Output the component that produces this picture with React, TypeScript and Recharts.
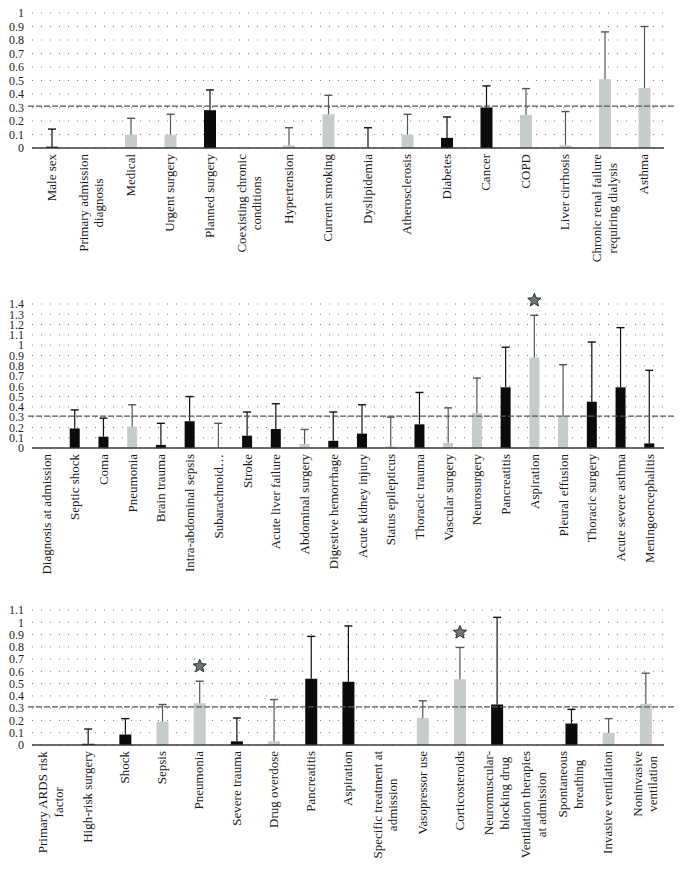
import React from "react";
import { BarChart, Bar, Cell, XAxis, YAxis, CartesianGrid, ReferenceLine } from "recharts";

const FONT = "'Liberation Serif', 'Times New Roman', serif";
const DARK = "#0b0b0b";
const LIGHT = "#c4cdc9";
const THRESHOLD = 0.31;

// Panel 1 — patient characteristics
const labels1 = [
  "Male sex", "Primary admission\ndiagnosis", "Medical", "Urgent surgery", "Planned surgery",
  "Coexisting chronic\nconditions", "Hypertension", "Current smoking", "Dyslipidemia",
  "Atherosclerosis", "Diabetes", "Cancer", "COPD", "Liver cirrhosis",
  "Chronic renal failure\nrequiring dialysis", "Asthma",
];
const values1 = [0.01, null, 0.1, 0.1, 0.28, null, 0.02, 0.25, 0, 0.1, 0.075, 0.3, 0.245, 0.02, 0.51, 0.445];
const errors1 = [0.14, null, 0.22, 0.25, 0.43, null, 0.15, 0.39, 0.15, 0.25, 0.23, 0.46, 0.44, 0.27, 0.86, 0.9];
const tones1 = [1, 0, 0, 0, 1, 0, 0, 0, 1, 0, 1, 1, 0, 0, 0, 0];
const stars1: number[] = [];

// Panel 2 — diagnosis at admission
const labels2 = [
  "Diagnosis at admission", "Septic shock", "Coma", "Pneumonia", "Brain trauma",
  "Intra-abdominal sepsis", "Subarachnoid\u2026", "Stroke", "Acute liver failure",
  "Abdominal surgery", "Digestive hemorrhage", "Acute kidney injury", "Status epilepticus",
  "Thoracic trauma", "Vascular surgery", "Neurosurgery", "Pancreatitis", "Aspiration",
  "Pleural effusion", "Thoracic surgery", "Acute severe asthma", "Meningoencephalitis",
];
const values2 = [null, 0.19, 0.11, 0.21, 0.03, 0.26, 0, 0.12, 0.185, 0.04, 0.07, 0.14, 0.015, 0.23, 0.05, 0.34, 0.59, 0.88, 0.305, 0.45, 0.59, 0.045];
const errors2 = [null, 0.37, 0.29, 0.42, 0.24, 0.5, 0.24, 0.35, 0.43, 0.18, 0.35, 0.42, 0.3, 0.54, 0.39, 0.68, 0.98, 1.29, 0.81, 1.03, 1.17, 0.755];
const tones2 = [0, 1, 1, 0, 1, 1, 0, 1, 1, 0, 1, 1, 0, 1, 0, 0, 1, 0, 0, 1, 1, 1];
const stars2 = [17];

// Panel 3 — ARDS risk factors and treatment
const labels3 = [
  "Primary ARDS risk\nfactor", "High-risk surgery", "Shock", "Sepsis", "Pneumonia",
  "Severe trauma", "Drug overdose", "Pancreatitis", "Aspiration",
  "Specific treatment at\nadmission", "Vasopressor use", "Corticosteroids",
  "Neuromuscular-\nblocking drug", "Ventilation therapies\nat admission",
  "Spontaneous\nbreathing", "Invasive ventilation", "Noninvasive\nventilation",
];
const values3 = [null, 0.01, 0.085, 0.19, 0.34, 0.03, 0.03, 0.54, 0.515, null, 0.22, 0.535, 0.33, null, 0.175, 0.1, 0.335];
const errors3 = [null, 0.13, 0.215, 0.33, 0.52, 0.22, 0.37, 0.885, 0.97, null, 0.36, 0.795, 1.04, null, 0.29, 0.215, 0.585];
const tones3 = [0, 1, 1, 0, 0, 1, 0, 1, 1, 0, 0, 0, 1, 0, 1, 0, 0];
const stars3 = [4, 11];

let ctx: CanvasRenderingContext2D | null = null;
function measure(text: string) {
  if (!ctx) ctx = document.createElement("canvas").getContext("2d");
  if (!ctx) return text.length * 6;
  ctx.font = `13px ${FONT}`;
  return ctx.measureText(text).width;
}

function CategoryTick(props: any) {
  const { x, y, payload } = props;
  const lines = String(payload.value).split("\n");
  const maxW = Math.max(...lines.map(measure));
  const lh = 15.5;
  return (
    <g transform={`translate(${x},${y})`}>
      {lines.map((ln, i) => (
        <text
          key={i}
          transform="rotate(-90)"
          x={-(6 + maxW / 2)}
          y={(i - (lines.length - 1) / 2) * lh}
          dy="0.32em"
          textAnchor="middle"
          fontSize={13}
          fontFamily={FONT}
          fill="#1a1a1a"
        >
          {ln}
        </text>
      ))}
    </g>
  );
}

function starPath(cx: number, cy: number, r: number) {
  const pts: string[] = [];
  for (let i = 0; i < 10; i++) {
    const rad = i % 2 === 0 ? r : r * 0.45;
    const a = -Math.PI / 2 + (i * Math.PI) / 5;
    pts.push(`${cx + rad * Math.cos(a)},${cy + rad * Math.sin(a)}`);
  }
  return `M${pts.join("L")}Z`;
}

// draws the upper whisker of each bar (and the significance star)
function Whisker(props: any) {
  const { x, y, width, height, payload } = props;
  if (payload.err == null) return null;
  const cx = x + width / 2;
  const color = payload.tone ? "#111" : "#555";
  return (
    <g>
      <line x1={cx} x2={cx} y1={y + height} y2={y} stroke={color} strokeWidth={1.2} />
      <line x1={cx - 4} x2={cx + 4} y1={y} y2={y} stroke={color} strokeWidth={1.4} />
      {payload.star && (
        <path d={starPath(cx, y - 15, 7)} fill="#6f7775" stroke="#222" strokeWidth={0.9} />
      )}
    </g>
  );
}

function DashedRef(props: any) {
  const { x1, x2, y1 } = props;
  if (x1 == null) return null;
  return <line x1={x1 - 4} x2={x2 + 10} y1={y1} y2={y1} stroke="#555" strokeWidth={1.3} strokeDasharray="6 2" />;
}

function buildRows(labels: string[], values: (number | null)[], errors: (number | null)[], tones: number[], stars: number[]) {
  return labels.map((label, i) => ({
    label,
    value: values[i],
    err: errors[i],
    span: errors[i] == null ? null : (errors[i] as number) - ((values[i] as number) || 0),
    tone: tones[i],
    star: stars.includes(i),
  }));
}

function Panel({ rows, max, top, plotH, axisH, barSize }: any) {
  const ticks: number[] = [];
  for (let i = 0; i <= Math.round(max * 10); i++) ticks.push(i / 10);
  const marginTop = 24;
  return (
    <div style={{ position: "absolute", left: 0, top: top - marginTop }}>
      <BarChart
        width={682}
        height={marginTop + plotH + axisH}
        data={rows}
        margin={{ top: marginTop, right: 18, bottom: 0, left: 0 }}
        barSize={barSize}
      >
        <CartesianGrid vertical={false} stroke="#7a7a7a" strokeDasharray="1 8" />
        <XAxis
          dataKey="label"
          interval={0}
          height={axisH}
          tickLine={false}
          tickSize={0}
          tickMargin={0}
          axisLine={{ stroke: "#3a3a3a", strokeWidth: 1.5 }}
          tick={<CategoryTick />}
        />
        <YAxis
          width={32}
          domain={[0, max]}
          ticks={ticks}
          interval={0}
          axisLine={false}
          tickLine={false}
          tickFormatter={(v: number) => String(+v.toFixed(1))}
          tick={{ fontSize: 12, fontFamily: FONT, fill: "#222" }}
        />
        <ReferenceLine y={THRESHOLD} shape={<DashedRef />} />
        <Bar dataKey="value" stackId="a" isAnimationActive={false}>
          {rows.map((r: any, i: number) => (
            <Cell key={i} fill={r.tone ? DARK : LIGHT} />
          ))}
        </Bar>
        <Bar dataKey="span" stackId="a" isAnimationActive={false} shape={<Whisker />} />
      </BarChart>
    </div>
  );
}

export default function App() {
  return (
    <div style={{ position: "absolute", left: 0, top: 0, width: 682, height: 869, background: "#fff", overflow: "hidden" }}>
      <style>{`.recharts-surface { overflow: visible; } .recharts-wrapper { overflow: visible; }`}</style>
      <Panel rows={buildRows(labels1, values1, errors1, tones1, stars1)} max={1} top={13} plotH={135} axisH={85} barSize={12} />
      <Panel rows={buildRows(labels2, values2, errors2, tones2, stars2)} max={1.4} top={304} plotH={144} axisH={95} barSize={10} />
      <Panel rows={buildRows(labels3, values3, errors3, tones3, stars3)} max={1.1} top={610} plotH={135} axisH={123} barSize={12} />
    </div>
  );
}
